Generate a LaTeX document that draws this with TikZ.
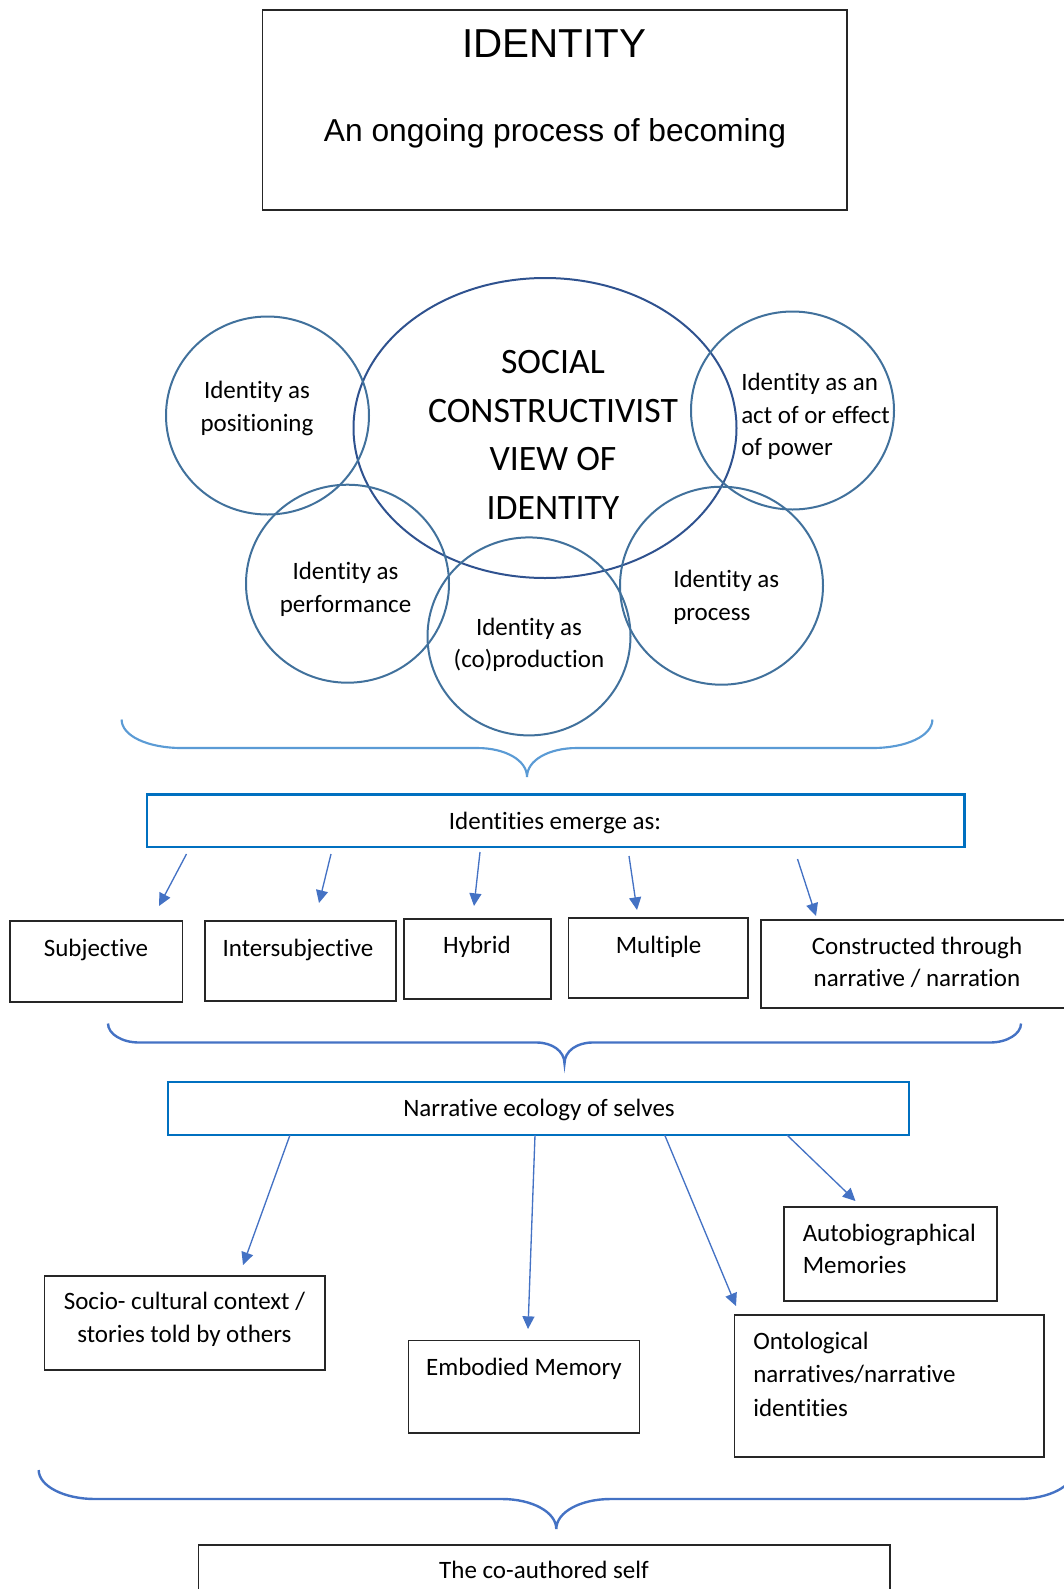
\documentclass[tikz,border=0pt]{standalone}
\usepackage{fontspec}
\setmainfont{Carlito}[Ligatures=NoCommon]
\newfontfamily\arialf{Liberation Sans}
\usetikzlibrary{shapes.geometric,arrows.meta,fit}

\definecolor{ringblue}{HTML}{41719C}
\definecolor{coreblue}{HTML}{2F528F}
\definecolor{lightbrace}{HTML}{5B9BD5}
\definecolor{accentblue}{HTML}{4472C4}
\definecolor{framblue}{HTML}{0070C0}
\newcommand\pxl[1]{#1*0.75pt}

\tikzset{
  txt/.style={font=\fontsize{18.75}{24.3}\selectfont, inner sep=0pt, align=center},
  ring/.style={draw=ringblue, line width=1.5pt, ellipse, inner sep=0pt,
               minimum width=\pxl{203}, minimum height=\pxl{198}},
  bbox/.style={draw=black!85, line width=1.3pt, inner sep=0pt},
  blbox/.style={draw=framblue, line width=2pt, inner sep=0pt},
  bracea/.style={draw=lightbrace, line width=1.6pt},
  braceb/.style={draw=accentblue, line width=1.8pt},
  conn/.style={draw=accentblue, line width=1pt, -{Triangle[length=9.5pt,width=9pt]}}
}

\begin{document}
\begin{tikzpicture}[x=0.75pt,y=-0.75pt]
\path[use as bounding box] (0,0) rectangle (1064,1589);
\clip (0,0) rectangle (1064,1589);

% title
\node[bbox, fit={(262.5,10)(846.7,210)}] (title) {};
\node[inner sep=0pt, font=\arialf\fontsize{30.3}{36}\selectfont] (titleA) at (554.5,43.5) {IDENTITY};
\node[inner sep=0pt, font=\arialf\fontsize{23.8}{28}\selectfont] (titleB) at (555,133.5) {An ongoing process of becoming};

% central view and surrounding rings
\node[draw=coreblue, line width=1.5pt, ellipse, inner sep=0pt,
      minimum width=\pxl{383}, minimum height=\pxl{300}] (core) at (545,428) {};
\node[inner sep=0pt, align=center, font=\fontsize{26.8}{36.45}\selectfont] (coreT) at (553,435)
  {SOCIAL\\CONSTRUCTIVIST\\VIEW OF\\IDENTITY};

\node[ring] (pos) at (267.5,415.5) {};
\node[txt] (posT) at (257,408.5) {Identity as\\positioning};

\node[ring] (pow) at (792.5,410.5) {};
\node[txt, align=left, anchor=west] (powT) at (741,416.5) {Identity as an\\act of or effect\\of power};

\node[ring] (perf) at (347.5,583.7) {};
\node[txt] (perfT) at (345.5,589.5) {Identity as\\performance};

\node[ring] (coprod) at (529,636.4) {};
\node[txt] (coprodT) at (529,645) {Identity as\\(co)production};

\node[ring] (proc) at (721.5,585.7) {};
\node[txt, align=left, anchor=west] (procT) at (673,597.5) {Identity as\\process};

% first brace
\draw[bracea] (121.6,719.5) .. controls (121.6,736) and (148,748) .. (181.6,748)
  -- (477,748) .. controls (505,748) and (527,760) .. (527,777)
  .. controls (527,760) and (549,748) .. (577,748)
  -- (872.4,748) .. controls (906,748) and (932.4,736) .. (932.4,719.5);

\node[blbox, fit={(147,794.5)(964.7,847)}] (emerge) {};
\node[txt] (emergeT) at (555,823) {Identities emerge as:};

% forms of emergence
\node[bbox, fit={(10,921)(182.4,1002)}] (subj) {};
\node[txt] (subjT) at (96,949.5) {Subjective};
\node[bbox, fit={(204.7,921)(396,1001)}] (inter) {};
\node[txt] (interT) at (298,949.5) {Intersubjective};
\node[bbox, fit={(404,919)(551,999)}] (hyb) {};
\node[txt] (hybT) at (477,946.5) {Hybrid};
\node[bbox, fit={(568.5,918)(748,998)}] (mult) {};
\node[txt] (multT) at (658.6,946.5) {Multiple};
\node[bbox, fit={(761,920)(1080,1008)}] (cons) {};
\node[txt] (consT) at (917,962.5) {Constructed through\\narrative / narration};

\coordinate (a1s) at (186.5,854); \coordinate (a1e) at (159,906);
\coordinate (a2s) at (331,854);   \coordinate (a2e) at (319,903);
\coordinate (a3s) at (480,852);   \coordinate (a3e) at (474,906);
\coordinate (a4s) at (629,856);   \coordinate (a4e) at (637,910);
\coordinate (a5s) at (797.5,859); \coordinate (a5e) at (816,916);
\draw[conn] (a1s) -- (a1e);
\draw[conn] (a2s) -- (a2e);
\draw[conn] (a3s) -- (a3e);
\draw[conn] (a4s) -- (a4e);
\draw[conn] (a5s) -- (a5e);

% second brace
\draw[braceb] (108,1023.5) .. controls (108,1034) and (122,1042.5) .. (139,1042.5)
  -- (536.5,1042.5) .. controls (552,1042.5) and (564.5,1051) .. (564.5,1063.5)
  .. controls (564.5,1051) and (577,1042.5) .. (592.5,1042.5)
  -- (990,1042.5) .. controls (1007,1042.5) and (1021,1034) .. (1021,1023.5);

\node[blbox, fit={(168,1082)(909,1135)}] (ecol) {};
\node[txt] (ecolT) at (539,1109.5) {Narrative ecology of selves};

% elements of the narrative ecology
\node[bbox, fit={(44.6,1275.8)(325.3,1370)}] (socio) {};
\node[txt] (socioT) at (184.4,1319.5) {Socio- cultural context /\\stories told by others};
\node[bbox, fit={(408.4,1340.6)(639.4,1432.8)}] (emb) {};
\node[txt] (embT) at (524,1368.5) {Embodied Memory};
\node[bbox, fit={(784,1207)(997,1301)}] (auto) {};
\node[txt, align=left, anchor=west] (autoT) at (802.5,1249) {Autobiographical\\Memories};
\node[bbox, fit={(734.6,1315.3)(1043.7,1457)}] (onto) {};
\node[txt, align=left, anchor=west, font=\fontsize{18.75}{25.1}\selectfont] (ontoT) at (753,1374)
  {Ontological\\narratives/narrative\\identities};

\coordinate (b1s) at (290,1135);   \coordinate (b1e) at (243,1265);
\coordinate (b2s) at (535,1135);   \coordinate (b2e) at (528,1329);
\coordinate (b3s) at (664.7,1135); \coordinate (b3e) at (736,1306);
\coordinate (b4s) at (787,1135);   \coordinate (b4e) at (855.5,1201);
\draw[conn] (b1s) -- (b1e);
\draw[conn] (b2s) -- (b2e);
\draw[conn] (b3s) -- (b3e);
\draw[conn] (b4s) -- (b4e);

% third brace
\draw[braceb] (38.7,1470) .. controls (38.7,1486) and (64,1499) .. (95,1499)
  -- (502,1499) .. controls (532,1499) and (556.3,1512) .. (556.3,1529)
  .. controls (556.3,1512) and (580.6,1499) .. (610.6,1499)
  -- (1018,1499) .. controls (1049,1499) and (1074,1486) .. (1074,1470);

\node[bbox, fit={(198.6,1545.3)(889.7,1610)}] (self) {};
\node[txt] (selfT) at (544,1570) {The co-authored self};
\end{tikzpicture}
\end{document}
